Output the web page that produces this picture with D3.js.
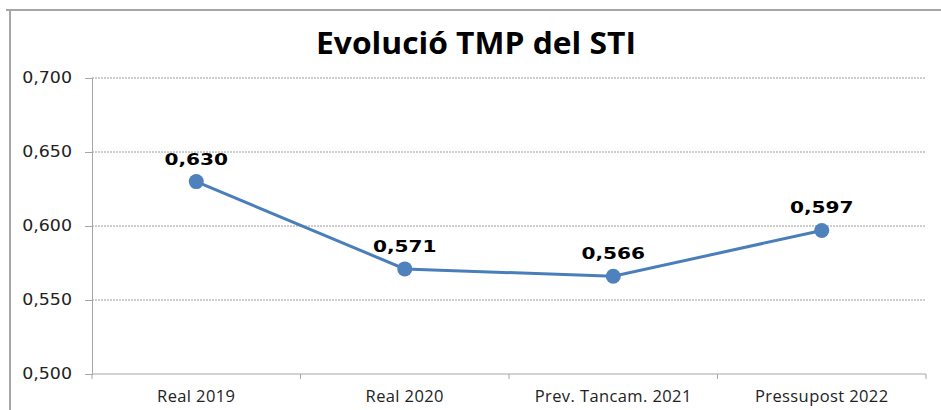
<!DOCTYPE html>
<html>
<head>
<meta charset="utf-8">
<script src="https://cdn.jsdelivr.net/npm/d3@7"></script>
<style>
  body { margin: 0; background: white; }
  svg { display: block; }
</style>
</head>
<body>
<svg id="chart" width="941" height="410"></svg>
<script>
// chart data
var categories = ["Real 2019", "Real 2020", "Prev. Tancam. 2021", "Pressupost 2022"];
var values = [0.630, 0.571, 0.566, 0.597];
var yTicks = [0.500, 0.550, 0.600, 0.650, 0.700];
var title = "Evolució TMP del STI";

var width = 941, height = 410;
var margin = {left: 92, right: 15, top: 78, bottom: 36};
var lineColor = "#4a7ebb";

var fmt = function(v) { return d3.format(".3f")(v).replace(".", ","); };

var svg = d3.select("#chart");

// outer frame (only top and left visible)
svg.append("line").attr("x1", 6).attr("x2", width).attr("y1", 10).attr("y2", 10)
    .attr("stroke", "#a6a6a6").attr("stroke-width", 2);
svg.append("line").attr("x1", 10).attr("x2", 10).attr("y1", 10).attr("y2", height)
    .attr("stroke", "#a6a6a6").attr("stroke-width", 2);

var x = d3.scaleBand().domain(categories)
    .range([margin.left, width - margin.right]);
var y = d3.scaleLinear().domain([0.5, 0.7])
    .range([height - margin.bottom, margin.top]);

// gridlines
svg.append("g").selectAll("line")
    .data(yTicks.slice(1))
    .enter().append("line")
    .attr("x1", margin.left).attr("x2", width - margin.right)
    .attr("y1", function(d) { return y(d); }).attr("y2", function(d) { return y(d); })
    .attr("stroke", "#9a9a9a").attr("stroke-width", 1)
    .attr("stroke-dasharray", "2,1");

// y axis (labels drawn separately, text in the original is a bit stretched)
var yAxis = svg.append("g")
    .attr("transform", "translate(" + margin.left + ",0)")
    .call(d3.axisLeft(y).tickValues(yTicks).tickFormat("").tickSize(7));
yAxis.select(".domain").attr("stroke", "#a6a6a6");
yAxis.selectAll(".tick line").attr("stroke", "#a6a6a6");

svg.append("g").selectAll("text")
    .data(yTicks).enter().append("text")
    .attr("transform", function(d) {
        return "translate(" + (margin.left - 20) + "," + (y(d) + 5) + ") scale(1.16,1)";
    })
    .attr("text-anchor", "end")
    .attr("font-family", "DejaVu Sans, Verdana, sans-serif")
    .attr("font-size", 15).attr("fill", "#222")
    .text(fmt);

// x axis: ticks at category boundaries
var xAxis = svg.append("g")
    .attr("transform", "translate(0," + y(0.5) + ")");
xAxis.append("line")
    .attr("x1", margin.left).attr("x2", width - margin.right)
    .attr("stroke", "#a6a6a6");
var bounds = categories.map(function(c) { return x(c); }).concat([x.range()[1]]);
xAxis.selectAll(".btick").data(bounds).enter().append("line")
    .attr("class", "btick")
    .attr("x1", function(d) { return d; }).attr("x2", function(d) { return d; })
    .attr("y1", 0).attr("y2", 5)
    .attr("stroke", "#a6a6a6");
xAxis.selectAll(".xlab").data(categories).enter().append("text")
    .attr("class", "xlab")
    .attr("x", function(d) { return x(d) + x.bandwidth() / 2; })
    .attr("y", 28)
    .attr("text-anchor", "middle")
    .attr("font-family", "Open Sans, sans-serif")
    .attr("font-size", 16.5).attr("letter-spacing", 0.4).attr("fill", "#222")
    .text(function(d) { return d; });

// title
svg.append("text")
    .attr("x", 476).attr("y", 54)
    .attr("text-anchor", "middle")
    .attr("font-family", "Open Sans, sans-serif")
    .attr("font-weight", "bold")
    .attr("font-size", 30)
    .attr("textLength", 320).attr("lengthAdjust", "spacingAndGlyphs")
    .attr("fill", "#000")
    .text(title);

// the line
var pts = categories.map(function(c, i) { return {cat: c, v: values[i]}; });
var cx = function(d) { return x(d.cat) + x.bandwidth() / 2; };
var line = d3.line()
    .x(cx)
    .y(function(d) { return y(d.v); });
svg.append("path").datum(pts)
    .attr("d", line)
    .attr("fill", "none")
    .attr("stroke", lineColor)
    .attr("stroke-width", 3);

svg.selectAll(".dot").data(pts).enter().append("circle")
    .attr("class", "dot")
    .attr("cx", cx)
    .attr("cy", function(d) { return y(d.v); })
    .attr("r", 7.5)
    .attr("fill", "#4f81bd");

svg.selectAll(".lab").data(pts).enter().append("text")
    .attr("class", "lab")
    .attr("transform", function(d) {
        return "translate(" + cx(d) + "," + (y(d.v) - 17) + ") scale(1.22,1)";
    })
    .attr("text-anchor", "middle")
    .attr("font-family", "DejaVu Sans, Verdana, sans-serif")
    .attr("font-weight", "bold")
    .attr("font-size", 16.5).attr("fill", "#000")
    .text(function(d) { return fmt(d.v); });
</script>
</body>
</html>
